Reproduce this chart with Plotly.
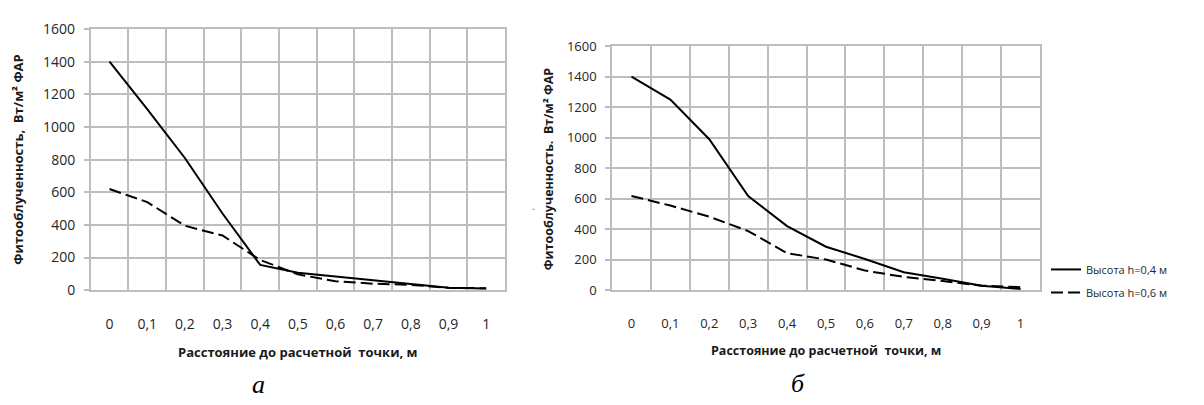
import plotly.graph_objects as go

categories = ["0", "0,1", "0,2", "0,3", "0,4", "0,5", "0,6", "0,7", "0,8", "0,9", "1"]

# Chart а
a_h04 = [1400, 1110, 810, 470, 155, 107, 84, 60, 40, 15, 10]
a_h06 = [620, 540, 395, 335, 185, 97, 55, 40, 33, 15, 12]

# Chart б
b_h04 = [1400, 1250, 990, 617, 420, 285, 205, 118, 75, 29, 8]
b_h06 = [618, 555, 482, 388, 243, 201, 129, 87, 60, 30, 20]

series_names = ["Высота h=0,4 м", "Высота h=0,6 м"]
y_ticks = [0, 200, 400, 600, 800, 1000, 1200, 1400, 1600]

W, H = 1204, 405
def px_x(v):
    return v / W
def px_y(v):
    return 1 - v / H

fig = go.Figure()

line_solid = dict(color="black", width=2)
line_dash = dict(color="black", width=2, dash="12px,5px")

fig.add_trace(go.Scatter(x=categories, y=a_h04, mode="lines", line=line_solid,
                         xaxis="x", yaxis="y", showlegend=False))
fig.add_trace(go.Scatter(x=categories, y=a_h06, mode="lines", line=line_dash,
                         xaxis="x", yaxis="y", showlegend=False))
fig.add_trace(go.Scatter(x=categories, y=b_h04, mode="lines", line=line_solid,
                         xaxis="x2", yaxis="y2", name=series_names[0],
                         legendgroup="g1"))
fig.add_trace(go.Scatter(x=categories, y=b_h06, mode="lines", line=line_dash,
                         xaxis="x2", yaxis="y2", name=series_names[1],
                         legendgroup="g2"))

grid_c = "#bdbdbd"
tick_c = "#262626"

def xaxis_cfg(domain, anchor, size):
    return dict(domain=domain, anchor=anchor, type="category",
                categoryorder="array", categoryarray=categories,
                range=[-0.5, 10.5], tickson="boundaries",
                showgrid=True, gridcolor=grid_c, gridwidth=1.5,
                ticks="", ticklabelstandoff=20,
                showline=True, linecolor=grid_c, linewidth=1.5, mirror=True,
                zeroline=False,
                tickfont=dict(family="Open Sans", size=size, color=tick_c))

def yaxis_cfg(domain, anchor, size):
    return dict(domain=domain, anchor=anchor, range=[0, 1600],
                tickvals=y_ticks, showgrid=True, gridcolor=grid_c, gridwidth=1.5,
                ticks="outside", ticklen=5, tickcolor=grid_c, tickwidth=1.5,
                ticklabelstandoff=6,
                showline=True, linecolor=grid_c, linewidth=1.5, mirror=True,
                zeroline=False,
                tickfont=dict(family="Open Sans", size=size, color=tick_c))

fig.update_layout(
    width=W, height=H, autosize=False,
    margin=dict(l=0, r=0, t=0, b=0),
    paper_bgcolor="white", plot_bgcolor="white",
    xaxis=xaxis_cfg([px_x(90.7), px_x(505)], "y", 14),
    yaxis=yaxis_cfg([px_y(294), px_y(20)], "x", 14),
    xaxis2=xaxis_cfg([px_x(612), px_x(1040)], "y2", 13),
    yaxis2=yaxis_cfg([px_y(294), px_y(38)], "x2", 13),
    legend=dict(x=px_x(1046), y=px_y(257), xanchor="left", yanchor="top",
                font=dict(family="Open Sans", size=11, color=tick_c),
                bgcolor="rgba(0,0,0,0)", tracegroupgap=4, itemwidth=30),
    showlegend=True,
)

title_font_l = dict(family="Open Sans", size=13, color="#1a1a1a")
title_font_r = dict(family="Open Sans", size=12.5, color="#1a1a1a")

annotations = [
    dict(text="<b>Фитооблученность,  Вт/м² ФАР</b>", textangle=-90,
         x=px_x(18), y=px_y(157), font=title_font_l),
    dict(text="<b>Фитооблученность.  Вт/м² ФАР</b>", textangle=-90,
         x=px_x(548), y=px_y(167), font=title_font_r),
    dict(text="<b>Расстояние до расчетной  точки, м</b>",
         x=px_x(298), y=px_y(359), font=title_font_l),
    dict(text="<b>Расстояние до расчетной  точки, м</b>",
         x=px_x(826), y=px_y(357), font=title_font_r),
    dict(text="<i>а</i>", x=px_x(258), y=px_y(393),
         font=dict(family="Liberation Serif", size=26, color="black")),
    dict(text="<i>б</i>", x=px_x(798), y=px_y(392),
         font=dict(family="Liberation Serif", size=26, color="black")),
    dict(text=".", x=px_x(533), y=px_y(206),
         font=dict(family="Open Sans", size=10, color="#555")),
]
for a in annotations:
    a.update(xref="paper", yref="paper", showarrow=False,
             xanchor="center", yanchor="middle")
fig.update_layout(annotations=annotations)

fig.write_html("out.html", config={"displayModeBar": False},
               post_script="document.body.style.margin='0';document.body.style.overflow='hidden';")
